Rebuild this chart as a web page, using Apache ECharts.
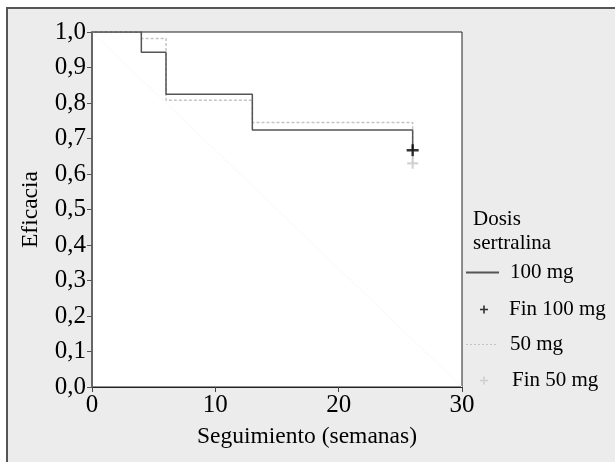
<!DOCTYPE html>
<html>
<head>
<meta charset="utf-8">
<script src="https://cdn.jsdelivr.net/npm/echarts@6/dist/echarts.min.js"></script>
<style>
  html, body { margin: 0; padding: 0; background: #fff; }
  #chart { width: 615px; height: 462px; }
</style>
</head>
<body>
<div id="chart"></div>
<script>
// == Data ====================================================================

const weeks = [0, 4, 6, 13, 26]
const eff100 = [1, 0.943, 0.825, 0.724, 0.665]
const eff50 = [1, 0.982, 0.808, 0.745, 0.63]

const censorWeeks = [26]
const censor100 = [0.667]
const censor50 = [0.63]

const yTickLabels = ['0,0', '0,1', '0,2', '0,3', '0,4', '0,5', '0,6', '0,7', '0,8', '0,9', '1,0']
const xTickLabels = ['0', '10', '20', '30']

// == Helpers =================================================================

const FONT = 'Liberation Serif'
const PLUS = 'path://M4,0H6V4H10V6H6V10H4V6H0V4H4Z'
const SOLID_ICON = 'path://M0,0H33V2H0Z'
let DOTTED_ICON = 'path://'
for (let x = 0; x < 30; x += 4) {
  DOTTED_ICON += 'M' + x + ',0H' + (x + 2) + 'V1H' + x + 'Z'
}

function pairs (xs, ys) {
  return xs.map((x, i) => [x, ys[i]])
}

function legendItem (name, icon, left, top, w, h, padLeft) {
  return {
    data: [{name: name, icon: icon}],
    orient: 'vertical',
    left: left,
    top: top,
    padding: 0,
    itemWidth: w,
    itemHeight: h,
    selectedMode: false,
    textStyle: {fontFamily: FONT, fontSize: 21, color: '#000', padding: [0, 0, 0, padLeft]}
  }
}

// == Chart ===================================================================

const myChart = echarts.init(document.getElementById('chart'))

myChart.setOption({
  backgroundColor: '#fff',
  animation: false,
  graphic: [
    {
      type: 'rect',
      z: -10,
      silent: true,
      shape: {x: 7, y: 8, width: 700, height: 600},
      style: {fill: '#ececec', stroke: '#555', lineWidth: 2}
    },
    {
      type: 'text',
      left: 473,
      top: 207,
      silent: true,
      style: {text: 'Dosis\nsertralina', font: '21px "Liberation Serif"', lineHeight: 24, fill: '#000'}
    }
  ],
  grid: {
    left: 92, right: 153, top: 32, bottom: 75,
    show: true,
    backgroundColor: '#fff',
    borderColor: '#222',
    borderWidth: 1
  },
  legend: [
    legendItem('100 mg', SOLID_ICON, 466, 262, 33, 14, 6),
    legendItem('Fin 100 mg', PLUS, 480, 299, 8, 8, 16),
    legendItem('50 mg', DOTTED_ICON, 466, 334, 30, 14, 9),
    legendItem('Fin 50 mg', PLUS, 480, 370, 8, 8, 19)
  ],
  xAxis: {
    type: 'value',
    min: 0, max: 30, interval: 10,
    name: 'Seguimiento (semanas)',
    nameLocation: 'middle',
    nameGap: 38,
    nameTextStyle: {fontFamily: FONT, fontSize: 23.5, color: '#000', padding: [0, 0, 0, 60]},
    axisLine: {lineStyle: {color: '#222', width: 1}},
    axisTick: {length: 5, lineStyle: {color: '#444'}},
    axisLabel: {
      fontFamily: FONT, fontSize: 25, color: '#000', margin: 6,
      formatter: v => xTickLabels[Math.round(v / 10)]
    },
    splitLine: {show: false}
  },
  yAxis: {
    type: 'value',
    min: 0, max: 1, interval: 0.1,
    name: 'Eficacia',
    nameLocation: 'middle',
    nameGap: 49,
    nameTextStyle: {fontFamily: FONT, fontSize: 23.5, color: '#000'},
    axisLine: {show: true, lineStyle: {color: '#666', width: 2}},
    axisTick: {show: true, length: 5, lineStyle: {color: '#555'}},
    axisLabel: {
      fontFamily: FONT, fontSize: 25, color: '#000', margin: 6,
      formatter: v => yTickLabels[Math.round(v * 10)]
    },
    splitLine: {show: false}
  },
  series: [
    {
      name: 'diag',
      type: 'line',
      silent: true,
      symbol: 'none',
      data: [[0, 1], [30, 0]],
      lineStyle: {color: '#f8f8f8', width: 1},
      z: 1
    },
    {
      name: '50 mg',
      type: 'line',
      step: 'end',
      symbol: 'none',
      data: pairs(weeks, eff50),
      itemStyle: {color: '#c4c4c4'},
      lineStyle: {color: '#c4c4c4', width: 1.5, type: [3, 2]},
      z: 2
    },
    {
      name: '100 mg',
      type: 'line',
      step: 'end',
      symbol: 'none',
      data: pairs(weeks, eff100),
      itemStyle: {color: '#555'},
      lineStyle: {color: '#555', width: 1.5},
      z: 3
    },
    {
      name: 'Fin 100 mg',
      type: 'scatter',
      symbol: PLUS,
      symbolSize: 12,
      data: pairs(censorWeeks, censor100),
      itemStyle: {color: '#000'},
      z: 4
    },
    {
      name: 'Fin 50 mg',
      type: 'scatter',
      symbol: PLUS,
      symbolSize: 11,
      data: pairs(censorWeeks, censor50),
      itemStyle: {color: '#c8c8c8'},
      z: 4
    }
  ]
})
</script>
</body>
</html>
